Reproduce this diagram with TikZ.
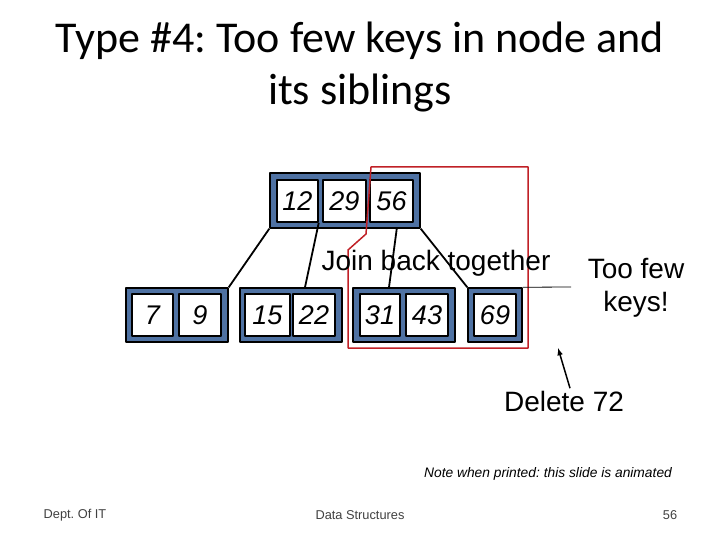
\documentclass[tikz,border=0pt]{standalone}
\usepackage{fontspec}
\setmainfont{Liberation Sans}
\newfontfamily\titlefont{Carlito}
\frenchspacing
\definecolor{nodeblue}{RGB}{79,114,163}
\definecolor{boxred}{RGB}{192,32,38}
\begin{document}
\begin{tikzpicture}[x=1pt,y=-1pt,>=latex,line join=bevel,
  frame/.style={draw=black,line width=1.5pt,fill=nodeblue,inner sep=0pt},
  cell/.style={draw=black,line width=1.5pt,fill=white,inner sep=0pt,minimum height=42pt,font=\itshape\fontsize{27}{27}\selectfont},
  edge/.style={line width=1.8pt}]
  \useasboundingbox (0,0) rectangle (720,540);
%%
  % Title
  \node (title) at (360,68) {\titlefont\fontsize{44}{52}\selectfont\begin{tabular}{c}Type \#4: Too few keys in node and\\its siblings\end{tabular}};
  % Node: Root
  \node[frame,minimum width=150pt,minimum height=55pt] (root) at (345,200.5) {};
  \node[cell,minimum width=41pt] (r12) at (297.5,201) {12};
  \node[cell,minimum width=43pt] (r29) at (344.5,201) {29};
  \node[cell,minimum width=43pt] (r56) at (391.5,201) {56};
  % Node: Leaves
  \node[frame,minimum width=102pt,minimum height=54pt] (la) at (177,315) {};
  \node[cell,minimum width=41pt] (l7) at (152.5,315) {7};
  \node[cell,minimum width=42pt] (l9) at (200,315) {9};
  \node[frame,minimum width=102pt,minimum height=54pt] (lb) at (291,315) {};
  \node[cell,minimum width=45pt] (l15) at (267.5,315) {15};
  \node[cell,minimum width=42pt] (l22) at (314,315) {22};
  \node[frame,minimum width=102pt,minimum height=54pt] (lc) at (404,315) {};
  \node[cell,minimum width=40pt] (l31) at (380,315) {31};
  \node[cell,minimum width=42pt] (l43) at (427,315) {43};
  \node[frame,minimum width=54pt,minimum height=54pt] (ld) at (495,315) {};
  \node[cell,minimum width=42pt] (l69) at (495,315) {69};
  % Edges
  \draw[edge] (root.south west) -- (la.north east);
  \draw[edge] (r12.south east) -- ([xshift=14pt]lb.north);
  \draw[edge] ([xshift=-24pt]root.south east) -- ([xshift=-15pt]lc.north);
  \draw[edge] (root.south east) -- (ld.north west);
  % Join region
  \draw[boxred,line width=1.5pt] (371,167) -- (528,167) -- (528,348) -- (348,348) -- (348,250) -- (366,234) -- cycle;
  \node (join) at (436,263) {\fontsize{28}{28}\selectfont Join back together};
  % Labels
  \node[align=center,font=\fontsize{28}{33}\selectfont] (few) at (636,288) {Too few\\keys!};
  \coordinate (fewend) at (571,287);
  \draw[line width=0.8pt] (ld.north east) -- (fewend);
  \node (del) at (564,401) {\fontsize{28}{28}\selectfont Delete 72};
  \coordinate (deltip) at (558,348);
  \draw[->,line width=1.5pt] (del.north) ++(6pt,-1pt) -- (deltip);
  \node (note) at (548,474) {\itshape\fontsize{13.8}{14}\selectfont Note when printed: this slide is animated};
  \node[text=darkgray] (dept) at (75,515) {\fontsize{12.8}{13}\selectfont Dept. Of IT};
  \node[text=darkgray] (ds) at (360,515) {\fontsize{12.8}{13}\selectfont Data Structures};
  \node[text=darkgray] (page) at (670,515) {\fontsize{12.8}{13}\selectfont 56};
%
\end{tikzpicture}
\end{document}
